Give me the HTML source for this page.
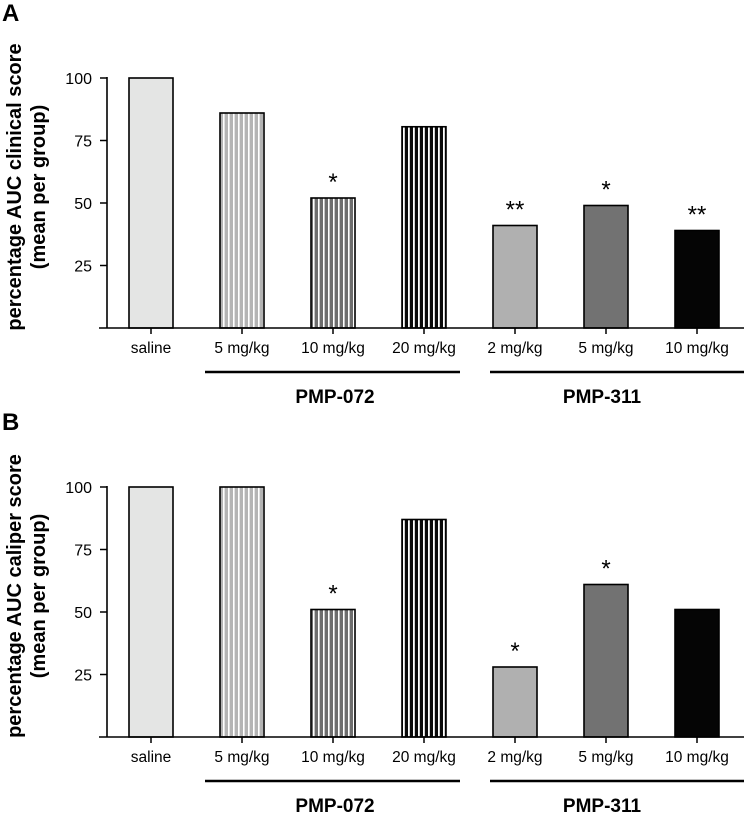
<!DOCTYPE html>
<html><head><meta charset="utf-8"><style>
body{margin:0;background:#fff;}
svg{display:block;font-family:"Liberation Sans",Arial,sans-serif;}
</style></head><body>
<svg id="fig" width="744" height="813" viewBox="0 0 744 813" xmlns="http://www.w3.org/2000/svg">
<defs>
<pattern id="p5" width="5" height="10" patternUnits="userSpaceOnUse"><rect width="5" height="10" fill="#b4b4b4"/><rect x="3" width="1.6" height="10" fill="#fff"/></pattern>
<pattern id="p10" width="5" height="10" patternUnits="userSpaceOnUse"><rect width="5" height="10" fill="#6e6e6e"/><rect x="3" width="1.6" height="10" fill="#fff"/></pattern>
<pattern id="p20" width="5" height="10" patternUnits="userSpaceOnUse"><rect width="5" height="10" fill="#0a0a0a"/><rect x="3" width="1.8" height="10" fill="#fff"/></pattern>
</defs>
</svg>
<script>
const categories = ["saline","5 mg/kg","10 mg/kg","20 mg/kg","2 mg/kg","5 mg/kg","10 mg/kg"];
const valuesA = [100, 86, 52, 80.5, 41, 49, 39];
const valuesB = [100, 100, 51, 87, 28, 61, 51];
const starsA = ["", "", "*", "", "**", "*", "**"];
const starsB = ["", "", "*", "", "*", "*", ""];
const yTicks = [25, 50, 75, 100];
const groups = ["PMP-072", "PMP-311"];
const fills = ["#e4e5e4","url(#p5)","url(#p10)","url(#p20)","#b0b0b0","#727272","#050505"];
const NS = "http://www.w3.org/2000/svg";
const svg = document.getElementById('fig');
function mk(tag, attrs, parent){const e=document.createElementNS(NS,tag);for(const k in attrs)e.setAttribute(k,attrs[k]);(parent||svg).appendChild(e);return e;}
function panel(cfg){
  const o = cfg.off;
  const g = mk('g',{});
  
  
  const y = v => o + 328 - v/100*250;
  const x = i => 151 + i*91;
  const lt = mk('text',{x:2,y:o+21,'font-size':24,'font-weight':'bold'},g); lt.textContent=cfg.letter;
  
  
  const yt = mk('text',{transform:`translate(0,${o+187}) rotate(-90)`,'font-size':20,'font-weight':'bold','text-anchor':'middle'},g);
  
  
  const t1 = mk('tspan',{x:0,y:21},yt); t1.textContent=cfg.title;
  const t2 = mk('tspan',{x:0,y:45},yt); t2.textContent='(mean per group)';
  for(let i=0;i<categories.length;i++){
    const v = cfg.vals[i];
    const r = mk('rect',{x:x(i)-22,y:y(v),width:44,height:y(0)-y(v),fill:fills[i],stroke:'#000','stroke-width':1.6},g);
    
    
    if(cfg.stars[i]){
      const s = mk('text',{x:x(i),y:y(v)-8,'font-size':24,'text-anchor':'middle'},g); s.textContent=cfg.stars[i];
      
      
    }
    mk('line',{x1:x(i),x2:x(i),y1:y(0),y2:y(0)+6,stroke:'#000','stroke-width':1.5},g);
    const lb = mk('text',{x:x(i),y:o+353,'font-size':15.5,'text-anchor':'middle'},g); lb.textContent=categories[i];
    
    
  }
  mk('line',{x1:107,x2:107,y1:y(100)-1,y2:y(0),stroke:'#000','stroke-width':1.6},g);
  mk('line',{x1:99,x2:744,y1:y(0),y2:y(0),stroke:'#000','stroke-width':1.6},g);
  yTicks.forEach(v=>{
    mk('line',{x1:100,x2:107,y1:y(v),y2:y(v),stroke:'#000','stroke-width':1.5},g);
    const tl = mk('text',{x:92,y:y(v)+6,'font-size':16,'text-anchor':'end'},g); tl.textContent=v;
    
    
  });
  const gx = [[205,460,335],[490,744,602]];
  groups.forEach((n,k)=>{
    mk('line',{x1:gx[k][0],x2:gx[k][1],y1:o+372,y2:o+372,stroke:'#000','stroke-width':2.5},g);
    const gt = mk('text',{x:gx[k][2],y:o+403,'font-size':19,'font-weight':'bold','text-anchor':'middle'},g); gt.textContent=n;
    
    
  });
}
panel({letter:'A',off:0,vals:valuesA,stars:starsA,title:'percentage AUC clinical score'});
panel({letter:'B',off:409,vals:valuesB,stars:starsB,title:'percentage AUC caliper score'});
</script>
</body></html>
